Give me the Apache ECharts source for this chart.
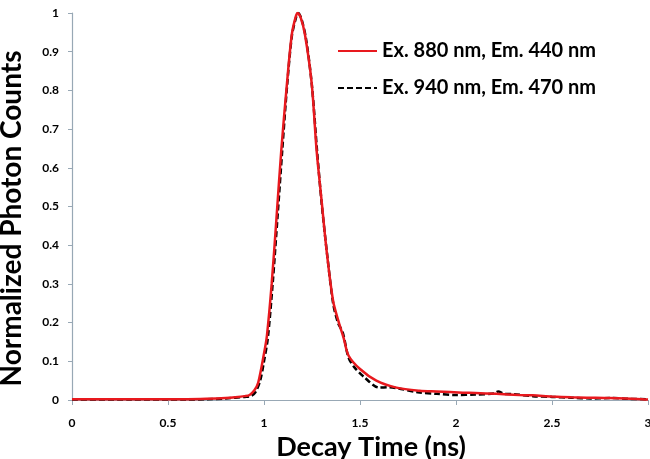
<!DOCTYPE html>
<html>
<head>
<meta charset="utf-8">
<script src="https://cdn.jsdelivr.net/npm/echarts@6/dist/echarts.min.js"></script>
<style>
  html, body { margin: 0; padding: 0; background: #fff; }
  #chart { width: 650px; height: 459px; }
</style>
</head>
<body>
<div id="chart"></div>
<script>
var chartDom = document.getElementById('chart');
var myChart = echarts.init(chartDom);

// Ex. 880 nm, Em. 440 nm (red)
var redTime = [0, 0.2, 0.4, 0.6, 0.7, 0.8, 0.85, 0.9, 0.925, 0.95, 0.97, 1.0, 1.015, 1.04, 1.065, 1.09, 1.12, 1.145, 1.165, 1.175, 1.19, 1.213, 1.248, 1.274, 1.3, 1.326, 1.36, 1.39, 1.415, 1.44, 1.5, 1.585, 1.69, 1.81, 1.9, 2.035, 2.1, 2.21, 2.33, 2.4, 2.5, 2.6, 2.68, 2.8, 2.97, 3.0];
var redValues = [0.002, 0.002, 0.002, 0.002, 0.003, 0.005, 0.007, 0.01, 0.013, 0.025, 0.045, 0.12, 0.165, 0.3, 0.47, 0.645, 0.82, 0.945, 0.99, 1.0, 0.99, 0.945, 0.82, 0.645, 0.515, 0.386, 0.256, 0.2, 0.16, 0.115, 0.08, 0.05, 0.032, 0.024, 0.022, 0.019, 0.018, 0.016, 0.013, 0.012, 0.009, 0.007, 0.006, 0.005, 0.002, 0.001];

// Ex. 940 nm, Em. 470 nm (black dashed)
var blackTime = [0, 0.3, 0.6, 0.7, 0.8, 0.9, 0.93, 0.955, 0.98, 1.0, 1.02, 1.045, 1.07, 1.095, 1.12, 1.145, 1.165, 1.178, 1.195, 1.22, 1.25, 1.277, 1.3, 1.328, 1.36, 1.385, 1.41, 1.44, 1.47, 1.52, 1.6, 1.65, 1.7, 1.8, 1.9, 2.0, 2.1, 2.2, 2.22, 2.25, 2.3, 2.4, 2.5, 2.6, 2.7, 2.8, 2.9, 3.0];
var blackValues = [0.001, 0.001, 0.001, 0.002, 0.004, 0.008, 0.01, 0.02, 0.05, 0.1, 0.16, 0.3, 0.47, 0.645, 0.81, 0.94, 0.985, 1.0, 0.985, 0.93, 0.81, 0.64, 0.51, 0.38, 0.25, 0.2, 0.175, 0.11, 0.085, 0.06, 0.032, 0.033, 0.03, 0.02, 0.016, 0.013, 0.014, 0.017, 0.022, 0.016, 0.015, 0.01, 0.008, 0.006, 0.004, 0.005, 0.003, 0.002];

var seriesNames = ['Ex. 880 nm, Em. 440 nm', 'Ex. 940 nm, Em. 470 nm'];

function pairs(xs, ys) {
    return xs.map(function (x, i) { return [x, ys[i]]; });
}

var fontName = 'Lato';
var axisColor = '#98a8b5';

var option = {
    animation: false,
    backgroundColor: '#fff',
    grid: {
        left: 72,
        right: 2,
        top: 13,
        bottom: 59,
        containLabel: false,
        outerBoundsMode: 'none'
    },
    legend: {
        data: seriesNames,
        orient: 'vertical',
        left: 332,
        top: 36,
        itemWidth: 39,
        itemHeight: 14,
        itemGap: 17,
        itemStyle: { opacity: 0 },
        textStyle: {
            color: '#000',
            fontWeight: 'bold',
            fontFamily: fontName,
            fontSize: 20
        }
    },
    xAxis: {
        type: 'value',
        min: 0,
        max: 3,
        interval: 0.5,
        name: 'Decay Time (ns)',
        nameLocation: 'middle',
        nameGap: 31,
        nameTextStyle: {
            color: '#000',
            fontWeight: 'bold',
            fontFamily: fontName,
            fontSize: 27,
            padding: [0, 0, 0, 22]
        },
        axisLine: { show: true, lineStyle: { color: axisColor, width: 1.2 } },
        axisTick: { show: true, inside: false, length: 5, lineStyle: { color: axisColor } },
        splitLine: { show: false },
        axisLabel: {
            color: '#000',
            fontWeight: 'bold',
            fontFamily: fontName,
            fontSize: 12,
            margin: 17,
            showMaxLabel: true,
            formatter: function (v) { return String(v); }
        }
    },
    yAxis: {
        type: 'value',
        min: 0,
        max: 1,
        interval: 0.1,
        name: 'Normalized Photon Counts',
        nameLocation: 'middle',
        nameGap: 46,
        nameTextStyle: {
            color: '#000',
            fontWeight: 'bold',
            fontFamily: fontName,
            fontSize: 28,
            padding: [0, 24, 0, 0]
        },
        axisLine: { show: true, lineStyle: { color: axisColor, width: 1.2 } },
        axisTick: { show: true, length: 4, lineStyle: { color: axisColor } },
        splitLine: { show: false },
        axisLabel: {
            color: '#000',
            fontWeight: 'bold',
            fontFamily: fontName,
            fontSize: 12,
            margin: 13,
            formatter: function (v) { return String(Math.round(v * 10) / 10); }
        }
    },
    series: [
        {
            name: seriesNames[1],
            type: 'line',
            data: pairs(blackTime, blackValues),
            smooth: 0.3,
            symbol: 'none',
            z: 2,
            itemStyle: { color: '#000' },
            lineStyle: { color: '#000', width: 2.5, type: [6, 3] }
        },
        {
            name: seriesNames[0],
            type: 'line',
            data: pairs(redTime, redValues),
            smooth: 0.3,
            symbol: 'none',
            z: 3,
            itemStyle: { color: '#e8191e' },
            lineStyle: { color: '#e8191e', width: 2.5 }
        }
    ]
};

option && myChart.setOption(option);
</script>
</body>
</html>
